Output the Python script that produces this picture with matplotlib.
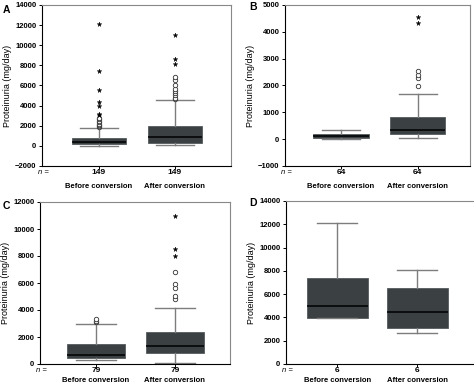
import matplotlib
matplotlib.use("Agg")
import matplotlib.pyplot as plt

plt.rcParams['font.family'] = ['Liberation Sans', 'DejaVu Sans']

categories = ['Before conversion', 'After conversion']

# Panel A (n = 149)
a_n = [149, 149]
a_whislo = [0, 50]
a_q1 = [150, 310]
a_med = [410, 900]
a_q3 = [750, 1970]
a_whishi = [1740, 4560]
a_circles = [[1850, 1950, 2050, 2200, 2350, 2500, 2650, 2800],
             [4650, 4800, 5050, 5250, 5450, 5700, 6050, 6550, 6850]]
a_stars = [[3050, 3200, 3950, 4350, 5550, 7450, 12150],
           [8100, 8600, 11050]]

# Panel B (n = 64)
b_n = [64, 64]
b_whislo = [0, 25]
b_q1 = [60, 210]
b_med = [110, 360]
b_q3 = [210, 810]
b_whishi = [330, 1700]
b_circles = [[], [1980, 2270, 2390, 2550]]
b_stars = [[], [4340, 4560]]

# Panel C (n = 79)
c_n = [79, 79]
c_whislo = [300, 75]
c_q1 = [450, 790]
c_med = [670, 1310]
c_q3 = [1480, 2350]
c_whishi = [2970, 4160]
c_circles = [[3100, 3200, 3300], [4780, 5020, 5640, 5900, 6800]]
c_stars = [[], [7990, 8530, 10960]]

# Panel D (n = 6)
d_n = [6, 6]
d_whislo = [3920, 2690]
d_q1 = [3980, 3060]
d_med = [4990, 4490]
d_q3 = [7350, 6490]
d_whishi = [12140, 8070]
d_circles = [[], []]
d_stars = [[], []]

panels = [
    ('A', a_n, a_whislo, a_q1, a_med, a_q3, a_whishi, a_circles, a_stars,
     (-2000, 14000), range(-2000, 14001, 2000)),
    ('B', b_n, b_whislo, b_q1, b_med, b_q3, b_whishi, b_circles, b_stars,
     (-1000, 5000), range(-1000, 5001, 1000)),
    ('C', c_n, c_whislo, c_q1, c_med, c_q3, c_whishi, c_circles, c_stars,
     (0, 12000), range(0, 12001, 2000)),
    ('D', d_n, d_whislo, d_q1, d_med, d_q3, d_whishi, d_circles, d_stars,
     (0, 14000), range(0, 14001, 2000)),
]

W, H = 474, 385
# axes rectangles in pixels: left, top, right, bottom
rects = {'A': (42, 5, 231, 166), 'B': (285, 5, 470, 166),
         'C': (40, 202, 230, 364), 'D': (286, 201, 474, 364)}
xlims = {'A': (0.25, 2.74), 'B': (0.27, 2.68), 'C': (0.29, 2.70), 'D': (0.36, 2.71)}
widths = {'A': 0.71, 'B': 0.72, 'C': 0.73, 'D': 0.76}
letter_pos = {'A': (3, 10), 'B': (249, 7), 'C': (3, 206), 'D': (249, 203)}
n_offset = {'A': 7, 'B': 7, 'C': 6, 'D': 6}
cat_offset = {'A': 21, 'B': 21, 'C': 16, 'D': 16}

box_face = '#3b4043'
whisk_col = '#7d7d7d'

fig = plt.figure(figsize=(W / 100, H / 100), dpi=100)

for (name, n, wlo, q1, med, q3, whi, circ, stars, ylim, yticks) in panels:
    l, t, r, b = rects[name]
    ax = fig.add_axes([l / W, 1 - b / H, (r - l) / W, (b - t) / H])
    stats = []
    for i in range(2):
        stats.append(dict(whislo=wlo[i], q1=q1[i], med=med[i], q3=q3[i],
                          whishi=whi[i], fliers=[]))
    ax.bxp(stats, positions=[1, 2], widths=widths[name], patch_artist=True,
           showfliers=False, capwidths=0.5,
           boxprops=dict(facecolor=box_face, edgecolor='#555a5c', linewidth=0.6),
           medianprops=dict(color='black', linewidth=1.1),
           whiskerprops=dict(color=whisk_col, linewidth=1.0),
           capprops=dict(color=whisk_col, linewidth=1.0))
    for i in range(2):
        if circ[i]:
            ax.plot([i + 1] * len(circ[i]), circ[i], 'o', ms=3.2,
                    mfc='white', mec='#333333', mew=0.6, zorder=3)
        if stars[i]:
            ax.plot([i + 1] * len(stars[i]), stars[i], '*', ms=3.5,
                    color='black', mew=0.3, zorder=3)
    ax.set_xlim(*xlims[name])
    ax.set_ylim(*ylim)
    ax.set_yticks(list(yticks))
    ax.tick_params(axis='y', labelsize=5.5, length=2.5, width=0.7, pad=1.5)
    for lab in ax.get_yticklabels():
        lab.set_fontweight('bold')
    ax.set_xticks([1, 2])
    ax.set_xticklabels([])
    ax.tick_params(axis='x', length=2.5, width=0.7)
    ax.spines['left'].set_color('black')
    ax.spines['bottom'].set_color('black')
    ax.spines['top'].set_color('#888888')
    ax.spines['right'].set_color('#888888')
    for s in ax.spines.values():
        s.set_linewidth(0.8)
    if name == 'D':
        ax.spines['right'].set_visible(False)
    ax.set_ylabel('Proteinuria (mg/day)', fontsize=6.5, labelpad=2)

    # n row and category labels below axis
    for i in range(2):
        ax.annotate(str(n[i]), xy=(i + 1, 0), xycoords=('data', 'axes fraction'),
                    xytext=(0, -n_offset[name] * 0.72), textcoords='offset points',
                    ha='center', va='center', fontsize=6, fontweight='bold')
        ax.annotate(categories[i], xy=(i + 1, 0), xycoords=('data', 'axes fraction'),
                    xytext=(0, -cat_offset[name] * 0.72), textcoords='offset points',
                    ha='center', va='center', fontsize=5.5, fontweight='bold')
    ax.annotate('n =', xy=(0, 0), xycoords='axes fraction',
                xytext=(5, -n_offset[name] * 0.72), textcoords='offset points',
                ha='right', va='center', fontsize=5.5, style='italic')

    lx, ly = letter_pos[name]
    fig.text(lx / W, 1 - ly / H, name, fontsize=7.5, fontweight='bold',
             ha='left', va='center')

fig.savefig('out.png', dpi=100)
